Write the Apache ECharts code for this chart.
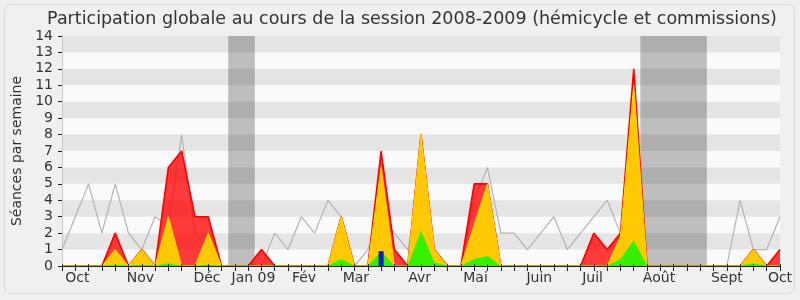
<!DOCTYPE html>
<html><head><meta charset="utf-8">
<script src="https://cdn.jsdelivr.net/npm/echarts@6/dist/echarts.min.js"></script>
<style>html,body{margin:0;padding:0;background:#f0f0f0}#c{width:800px;height:300px}</style>
</head><body><div id="c"></div>
<script>
const titleText = 'Participation globale au cours de la session 2008-2009 (hémicycle et commissions)';
const yName = 'Séances par semaine';
const weekCount = 55;
const monthLabels = ['Oct','Nov','Déc','Jan 09','Fév','Mar','Avr','Mai','Juin','Juil','Août','Sept','Oct'];
const monthPos = [1.15, 5.9, 10.9, 14.4, 18.2, 22.1, 26.9, 31.1, 35.9, 39.9, 44.9, 50.0, 54.0];
const vacations = [[12.5, 14.5], [43.5, 48.5]];
const presence = [0,0,0,0,2,0,1,0,6,7,3,3,0,0,0,1,0,0,0,0,0,3,0,0,7,1,0,8,1,0,0,5,5,0,0,0,0,0,0,0,2,1,2,12,0,0,0,0,0,0,0,0,1,0,1];
const participation = [0,0,0,0,1,0,1,0,3,0,0,2,0,0,0,0,0,0,0,0,0,3,0,0,6,0,0,8,1,0,0,2.5,5,0,0,0,0,0,0,0,0,0,1.8,11,0,0,0,0,0,0,0,0,1,0,0];
const interventions = [0,0,0,0,0.05,0,0.05,0,0.15,0,0,0.05,0,0,0,0,0,0,0,0,0,0.4,0,0,0.85,0,0,2.1,0.2,0,0,0.4,0.6,0,0,0,0,0,0,0,0,0,0.4,1.55,0,0,0,0,0,0,0,0,0.15,0,0];
const questions = [[24, 0.9]];
const median = [1,3,5,2,5,2,1,3,2.5,8,2,1,0,0,0,0,2,1,3,2,4,3,0,1,3,2,1,4,1,0,0,4,6,2,2,1,2,3,1,2,3,4,2,1,0,0,0,0,0,0,0,4,1,1,3];

const pairs = arr => arr.map((v, i) => [i, v]);
const weekTicks = presence.map((v, i) => i);
const F = 'DejaVu Sans';

const chart = echarts.init(document.getElementById('c'), null, {renderer: 'canvas'});
chart.setOption({
  animation: false,
  backgroundColor: '#f0f0f0',
  textStyle: {fontFamily: F},
  title: {text: titleText, left: 407, top: 5, textAlign: 'center',
    textStyle: {fontFamily: F, fontSize: 17.5, fontWeight: 'normal', color: '#333'}},
  graphic: [{type: 'rect', shape: {x: 4.5, y: 4.5, width: 790, height: 289, r: 6}, silent: true,
    style: {fill: null, stroke: '#dadada', lineWidth: 1}, z: -10}],
  grid: {left: 62, right: 20, top: 36, bottom: 34, show: true, backgroundColor: '#ffffff', borderWidth: 0},
  xAxis: [
    {type: 'value', min: 0, max: weekCount - 1, interval: 1, position: 'bottom', z: 9,
      axisLine: {show: true, lineStyle: {color: '#222', width: 1}},
      axisTick: {show: true, length: 5, customValues: weekTicks, lineStyle: {color: '#222'}},
      splitLine: {show: false},
      axisLabel: {show: true, margin: 5, fontSize: 14, color: '#333', fontFamily: F, customValues: monthPos,
        formatter: v => { const k = monthPos.findIndex(p => Math.abs(p - v) < 1e-6); return k >= 0 ? monthLabels[k] : ''; }}},
    {type: 'value', min: 0, max: weekCount - 1, interval: 1, position: 'top', z: 9,
      axisLine: {show: false}, axisTick: {show: true, length: 2, customValues: weekTicks, lineStyle: {color: '#333'}},
      axisLabel: {show: false}, splitLine: {show: false}}
  ],
  yAxis: [
    {type: 'value', min: 0, max: 14, interval: 1, position: 'left', z: 2,
      name: yName, nameLocation: 'middle', nameGap: 36, nameTextStyle: {fontSize: 14, color: '#333', fontFamily: F},
      axisLine: {show: true, lineStyle: {color: '#222'}}, axisTick: {show: true, length: 4, lineStyle: {color: '#222'}},
      axisLabel: {fontSize: 14, color: '#333', margin: 9, fontFamily: F}, splitLine: {show: false},
      splitArea: {show: true, areaStyle: {color: ['rgba(0,0,0,0.02)', 'rgba(0,0,0,0.1)']}}},
    {type: 'value', min: 0, max: 14, interval: 1, position: 'right', z: 2,
      axisLine: {show: true, lineStyle: {color: '#c8c8c8'}}, axisTick: {show: false}, axisLabel: {show: false}, splitLine: {show: false}}
  ],
  series: [
    {type: 'line', name: 'vacances', z: 1, data: [[0, 0]], symbol: 'none',
      lineStyle: {opacity: 0}, silent: true,
      markArea: {silent: true, itemStyle: {color: '#c2c2c2'}, data: vacations.map(v => [{xAxis: v[0]}, {xAxis: v[1]}])}},
    {type: 'line', name: 'médiane', z: 3, data: pairs(median), symbol: 'none',
      lineStyle: {color: '#b4b4b4', width: 1.2}},
    {type: 'line', name: 'présence', z: 4, data: pairs(presence), symbol: 'none',
      lineStyle: {color: '#ff0000', width: 1.6}, areaStyle: {color: 'rgba(255,0,0,0.77)', opacity: 1}},
    {type: 'line', name: 'participation', z: 5, data: pairs(participation), symbol: 'none',
      lineStyle: {color: '#ffd800', width: 1}, areaStyle: {color: 'rgba(255,212,0,0.93)', opacity: 1}},
    {type: 'line', name: 'interventions', z: 6, data: pairs(interventions), symbol: 'none',
      lineStyle: {color: '#33ee00', width: 0.5}, areaStyle: {color: '#36f000', opacity: 1}},
    {type: 'bar', name: 'questions', z: 7, data: questions, barWidth: 5,
      itemStyle: {color: '#0a1ad6'}}
  ]
});
</script></body></html>
